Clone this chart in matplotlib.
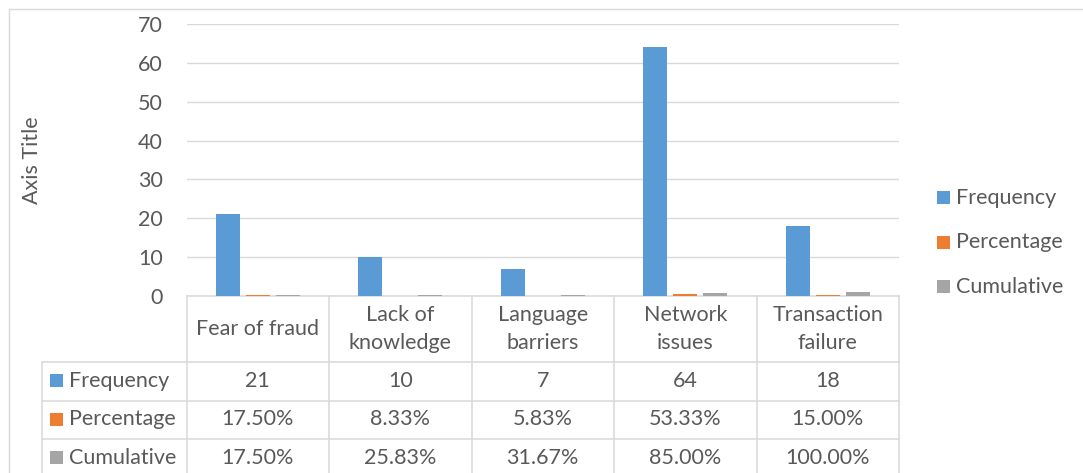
import matplotlib

matplotlib.use("Agg")
import matplotlib.pyplot as plt
from matplotlib.patches import Rectangle
import numpy as np

CATEGORIES = ["Fear of fraud", "Lack of\nknowledge", "Language\nbarriers",
              "Network\nissues", "Transaction\nfailure"]
FREQUENCY = [21, 10, 7, 64, 18]
PERCENTAGE = [0.1750, 0.0833, 0.0583, 0.5333, 0.1500]
CUMULATIVE = [0.1750, 0.2583, 0.3167, 0.8500, 1.0000]
SERIES_NAMES = ["Frequency", "Percentage", "Cumulative"]
Y_TICKS = [0, 10, 20, 30, 40, 50, 60, 70]

COLORS = ["#5B9BD5", "#ED7D31", "#A5A5A5"]
TEXT = "#595959"
LINE = "#D9D9D9"
FONT = "Lato"
FS = 15.5

W, H = 1083, 473
PLOT_L, PLOT_R, PLOT_T, PLOT_B = 186.5, 899.0, 24.0, 296.0
ROW_LINES = [362.0, 401.0, 439.0]
ROW_BOTTOM = 478.0
LABEL_L = 42.0

plt.rcParams["font.family"] = [FONT, "DejaVu Sans"]

fig = plt.figure(figsize=(W / 100, H / 100), dpi=100)
fig.patch.set_facecolor("white")

# chart area in pixel coordinates for table, legend and border
over = fig.add_axes([0, 0, 1, 1], zorder=0)
over.set_xlim(0, W)
over.set_ylim(H, 0)
over.axis("off")

ax = fig.add_axes(
    [PLOT_L / W, 1 - PLOT_B / H, (PLOT_R - PLOT_L) / W, (PLOT_B - PLOT_T) / H],
    zorder=2,
)
ax.patch.set_alpha(0)

x = np.arange(len(CATEGORIES))
offsets = [-0.2105, 0.0, 0.2105]
for values, name, color, off in zip(
    (FREQUENCY, PERCENTAGE, CUMULATIVE), SERIES_NAMES, COLORS, offsets
):
    ax.bar(x + off, values, width=0.166, color=color, label=name, zorder=3)

ax.set_xlim(-0.5, len(CATEGORIES) - 0.5)
ax.set_ylim(0, 70)
ax.set_yticks(Y_TICKS)
ax.set_xticks([])
ax.yaxis.grid(True, color=LINE, linewidth=1.0)
ax.set_axisbelow(True)
for side in ("top", "right", "left"):
    ax.spines[side].set_visible(False)
ax.spines["bottom"].set_color(LINE)
ax.spines["bottom"].set_linewidth(1.1)
ax.tick_params(axis="y", length=0, pad=17, labelsize=FS, labelcolor=TEXT)
ax.set_ylabel("Axis Title", fontsize=FS, color=TEXT)
ax.yaxis.set_label_coords(-(PLOT_L - 42) / (PLOT_R - PLOT_L), 0.5)

# chart border
over.add_patch(Rectangle((9.3, 9.3), W, H, fill=False, edgecolor=LINE, linewidth=1.0))

# data table
col_w = (PLOT_R - PLOT_L) / len(CATEGORIES)
bounds = [PLOT_L + i * col_w for i in range(len(CATEGORIES) + 1)]
for b in bounds:
    over.plot([b, b], [PLOT_B, ROW_BOTTOM], color=LINE, lw=1.1)
over.plot([LABEL_L, LABEL_L], [ROW_LINES[0], ROW_BOTTOM], color=LINE, lw=1.1)
for y in ROW_LINES:
    over.plot([LABEL_L, PLOT_R], [y, y], color=LINE, lw=1.1)

header_mid = (PLOT_B + ROW_LINES[0]) / 2
for i, cat in enumerate(CATEGORIES):
    over.text((bounds[i] + bounds[i + 1]) / 2, header_mid, cat, ha="center",
              va="center", fontsize=FS, color=TEXT, linespacing=1.5)

row_tops = ROW_LINES
row_bots = ROW_LINES[1:] + [ROW_BOTTOM]
cells = [
    [f"{v:d}" for v in FREQUENCY],
    [f"{v * 100:.2f}%" for v in PERCENTAGE],
    [f"{v * 100:.2f}%" for v in CUMULATIVE],
]
for r, (name, color, row) in enumerate(zip(SERIES_NAMES, COLORS, cells)):
    mid = (row_tops[r] + row_bots[r]) / 2 - 1
    over.add_patch(Rectangle((50, mid - 6.5), 13, 13, color=color, lw=0))
    over.text(69, mid, name, ha="left", va="center", fontsize=FS, color=TEXT)
    for i, txt in enumerate(row):
        over.text((bounds[i] + bounds[i + 1]) / 2, mid, txt, ha="center",
                  va="center", fontsize=FS, color=TEXT)

# legend
for k, (name, color) in enumerate(zip(SERIES_NAMES, COLORS)):
    ly = 197.5 + k * 44.7
    over.add_patch(Rectangle((937, ly - 6.5), 13, 13, color=color, lw=0))
    over.text(956, ly, name, ha="left", va="center", fontsize=FS, color=TEXT)

fig.savefig("out.png", dpi=100, facecolor="white")
